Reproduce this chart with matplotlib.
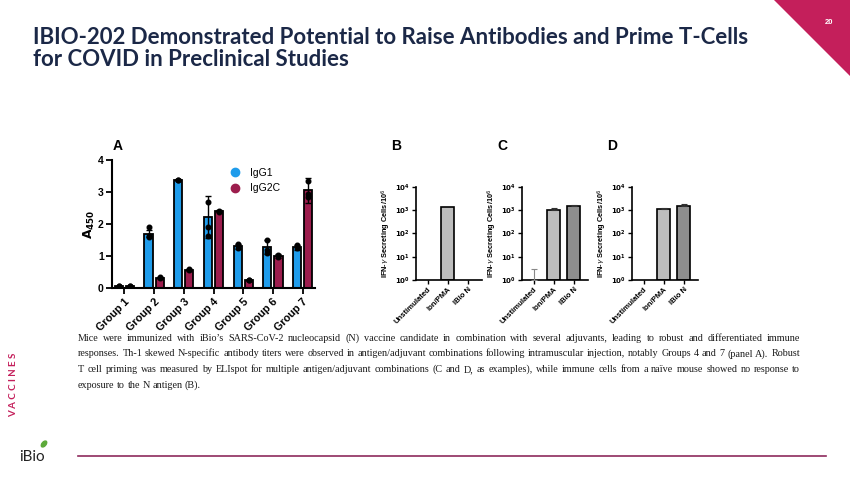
import numpy as np
import matplotlib
matplotlib.use("Agg")
import matplotlib.pyplot as plt
from matplotlib.lines import Line2D
from matplotlib.patches import Polygon, Ellipse

# Panel A data: antibody titers (A450) per group
groups = ['Group 1', 'Group 2', 'Group 3', 'Group 4', 'Group 5', 'Group 6', 'Group 7']
igg1_mean = [0.05, 1.70, 3.37, 2.22, 1.30, 1.27, 1.27]
igg1_err = [0.02, 0.12, 0.03, 0.65, 0.07, 0.22, 0.07]
igg1_pts = [[0.06, 0.05], [1.90, 1.60, 1.62], [3.38, 3.36], [2.70, 1.90, 1.62],
            [1.38, 1.25], [1.50, 1.20, 1.08], [1.33, 1.24]]
igg2c_mean = [0.05, 0.32, 0.56, 2.40, 0.24, 1.00, 3.05]
igg2c_err = [0.02, 0.03, 0.03, 0.03, 0.02, 0.05, 0.38]
igg2c_pts = [[0.06, 0.05], [0.33, 0.30], [0.58, 0.55], [2.41, 2.38],
             [0.25, 0.24], [1.02, 0.98], [3.35, 2.85, 2.95]]

# Panels B-D data: IFN-gamma secreting cells per 10^6
conditions = ['Unstimulated', 'Ion/PMA', 'IBio N']
b_values = [1, 1400, 1]
b_err = [0, 0, 0]
c_values = [1, 1000, 1500]
c_err = [1.9, 200, 200]
d_values = [1, 1150, 1450]
d_err = [0, 150, 350]

W, H = 850, 478
fig = plt.figure(figsize=(W / 100, H / 100), dpi=100)
renderer = fig.canvas.get_renderer()


def fx(x):
    return x / W


def fy(y):
    return 1 - y / H


# Slide decorations
magenta = '#C41F5B'
fig.add_artist(Polygon([[fx(774), fy(0)], [fx(850), fy(0)], [fx(850), fy(76)]],
                       closed=True, transform=fig.transFigure, color=magenta, lw=0))
fig.text(fx(829), fy(22), '20', color='white', fontsize=5.5, weight='bold',
         ha='center', va='center', family='Liberation Sans')

# Title, scaled to fill its width
navy = '#1B2847'
t1 = fig.text(fx(33), fy(38), 'IBIO-202 Demonstrated Potential to Raise Antibodies and Prime T-Cells',
              color=navy, fontsize=14, weight='bold', family='Lato', va='center')
w = t1.get_window_extent(renderer).width
size_title = 14 * 719 / w
t1.set_fontsize(size_title)
fig.text(fx(33), fy(60), 'for COVID in Preclinical Studies', color=navy,
         fontsize=size_title, weight='bold', family='Lato', va='center')

fig.text(fx(14), fy(385), 'V A C C I N E S', color=magenta, fontsize=7, weight='bold',
         rotation=90, ha='center', va='center', family='Lato')

# bottom rule and logo
fig.add_artist(Line2D([fx(78), fx(826)], [fy(456), fy(456)], color='#8E2A5C', lw=1.2,
                      transform=fig.transFigure))
fig.text(fx(19), fy(457), 'iBio', color='#222222', fontsize=11, family='Lato',
         va='center', ha='left')
fig.add_artist(Ellipse((44 / 100, (H - 444) / 100), 0.07, 0.04, angle=50, color='#5DAA3A',
                       transform=fig.dpi_scale_trans))

# Body text, justified word by word on a common baseline
body = ["Mice were immunized with iBio’s SARS-CoV-2 nucleocapsid (N) vaccine candidate in combination with several adjuvants, leading to robust and differentiated immune",
        "responses. Th-1 skewed N-specific antibody titers were observed in antigen/adjuvant combinations following intramuscular injection, notably Groups 4 and 7 (panel A). Robust",
        "T cell priming was measured by ELIspot for multiple antigen/adjuvant combinations (C and D, as examples), while immune cells from a naïve mouse showed no response to",
        "exposure to the N antigen (B)."]
probe = fig.text(0, 0, body[1], fontsize=8, family='Liberation Serif')
bw = probe.get_window_extent(renderer).width
probe.remove()
size_body = 8 * 0.985 * 722 / bw
sp = fig.text(0, 0, 'a a', fontsize=size_body, family='Liberation Serif')
sp2 = fig.text(0, 0, 'aa', fontsize=size_body, family='Liberation Serif')
space_w = sp.get_window_extent(renderer).width - sp2.get_window_extent(renderer).width
sp.remove()
sp2.remove()
for i, line in enumerate(body):
    y = 341 + i * 15.5
    words = line.split(' ')
    items = [fig.text(0, fy(y), wd, fontsize=size_body, family='Liberation Serif',
                      color='#1A1A1A', va='baseline') for wd in words]
    widths = [it.get_window_extent(renderer).width for it in items]
    if i < len(body) - 1:
        gap = (722 - sum(widths)) / (len(words) - 1)
    else:
        gap = space_w
    x = 78
    for it, wd in zip(items, widths):
        it.set_x(fx(x))
        x += wd + gap

# Panel A
blue = '#1F9CEB'
maroon = '#9C1D4D'
axA = fig.add_axes([fx(112), fy(288), (315 - 112) / W, (288 - 160) / H])
xs = np.arange(len(groups))
off = 0.19
bw_a = 0.27
ekw = dict(lw=1.0, capthick=1.0, ecolor='black')
axA.bar(xs - off, igg1_mean, bw_a, color=blue, edgecolor='black', lw=1.3,
        yerr=igg1_err, capsize=2, error_kw=ekw, zorder=2)
axA.bar(xs + off, igg2c_mean, bw_a, color=maroon, edgecolor='black', lw=1.3,
        yerr=igg2c_err, capsize=2, error_kw=ekw, zorder=2)
for i in range(len(groups)):
    axA.plot([i - off] * len(igg1_pts[i]), igg1_pts[i], 'o', color='black', ms=3.3, zorder=5)
    axA.plot([i + off] * len(igg2c_pts[i]), igg2c_pts[i], 'o', color='black', ms=3.3, zorder=5)
axA.set_xlim(-0.42, 6.42)
axA.set_ylim(0, 4)
axA.set_yticks([0, 1, 2, 3, 4])
axA.set_xticks(xs)
axA.set_xticklabels(groups, rotation=45, ha='right', rotation_mode='anchor',
                    fontsize=7.8, weight='bold', family='Liberation Sans')
for lab in axA.get_yticklabels():
    lab.set_fontsize(7.5)
    lab.set_weight('bold')
    lab.set_family('Liberation Sans')
for s in ['top', 'right']:
    axA.spines[s].set_visible(False)
for s in ['left', 'bottom']:
    axA.spines[s].set_linewidth(1.5)
axA.tick_params(width=1.3, length=4, pad=2)
axA.set_ylabel(r'$\mathbf{A_{450}}$', fontsize=9, labelpad=1)
handles = [Line2D([], [], marker='o', ls='', color=blue, ms=6),
           Line2D([], [], marker='o', ls='', color=maroon, ms=6)]
axA.legend(handles, ['IgG1', 'IgG2C'], frameon=False, loc='upper left',
           bbox_to_anchor=(0.51, 1.01), handletextpad=0.4,
           labelspacing=0.5, prop={'family': 'Liberation Sans', 'size': 7.5})
fig.text(fx(118), fy(146), 'A', fontsize=10, weight='bold', family='Liberation Sans',
         va='center', ha='center')

# Panels B, C, D
panels = [('B', 416, b_values, b_err, ['#BDBDBD', '#BDBDBD', '#BDBDBD']),
          ('C', 522, c_values, c_err, ['#BDBDBD', '#BDBDBD', '#8E8E8E']),
          ('D', 632, d_values, d_err, ['#BDBDBD', '#BDBDBD', '#8E8E8E'])]
xc = np.arange(len(conditions))
for name, left, vals, errs, cols in panels:
    ax = fig.add_axes([fx(left), fy(280), 66 / W, (280 - 187) / H])
    ax.set_yscale('log')
    for i in range(len(conditions)):
        if vals[i] > 1:
            ax.bar(xc[i], vals[i] - 1, 0.62, bottom=1, color=cols[i], edgecolor='black',
                   lw=1.2, zorder=2)
        if errs[i] > 0:
            ec = '#888888' if vals[i] <= 1 else '#333333'
            ax.errorbar(xc[i], vals[i], yerr=[[0], [errs[i]]], fmt='none', ecolor=ec,
                        capsize=2, elinewidth=0.8, capthick=0.8, zorder=3)
    ax.set_ylim(1, 1e4)
    ax.set_xlim(-0.58, 2.72)
    ax.set_yticks([1, 10, 100, 1000, 10000])
    ax.minorticks_off()
    ax.set_xticks(xc)
    ax.set_xticklabels(conditions, rotation=45, ha='right', rotation_mode='anchor',
                       fontsize=5.5, weight='bold', family='Liberation Sans')
    for lab in ax.get_yticklabels():
        lab.set_fontsize(5)
        lab.set_weight('bold')
    for s in ['top', 'right']:
        ax.spines[s].set_visible(False)
    for s in ['left', 'bottom']:
        ax.spines[s].set_linewidth(1.2)
    ax.tick_params(width=1.0, length=3, pad=1.5)
    ax.set_ylabel(r'IFN-$\gamma$ Secreting Cells/10$^{6}$', fontsize=5.3, weight='bold',
                  family='Liberation Sans', labelpad=1)
    fig.text(fx(left - 20), fy(146), name, fontsize=10, weight='bold',
             family='Liberation Sans', va='center', ha='center')

fig.savefig('out.png', dpi=100)
